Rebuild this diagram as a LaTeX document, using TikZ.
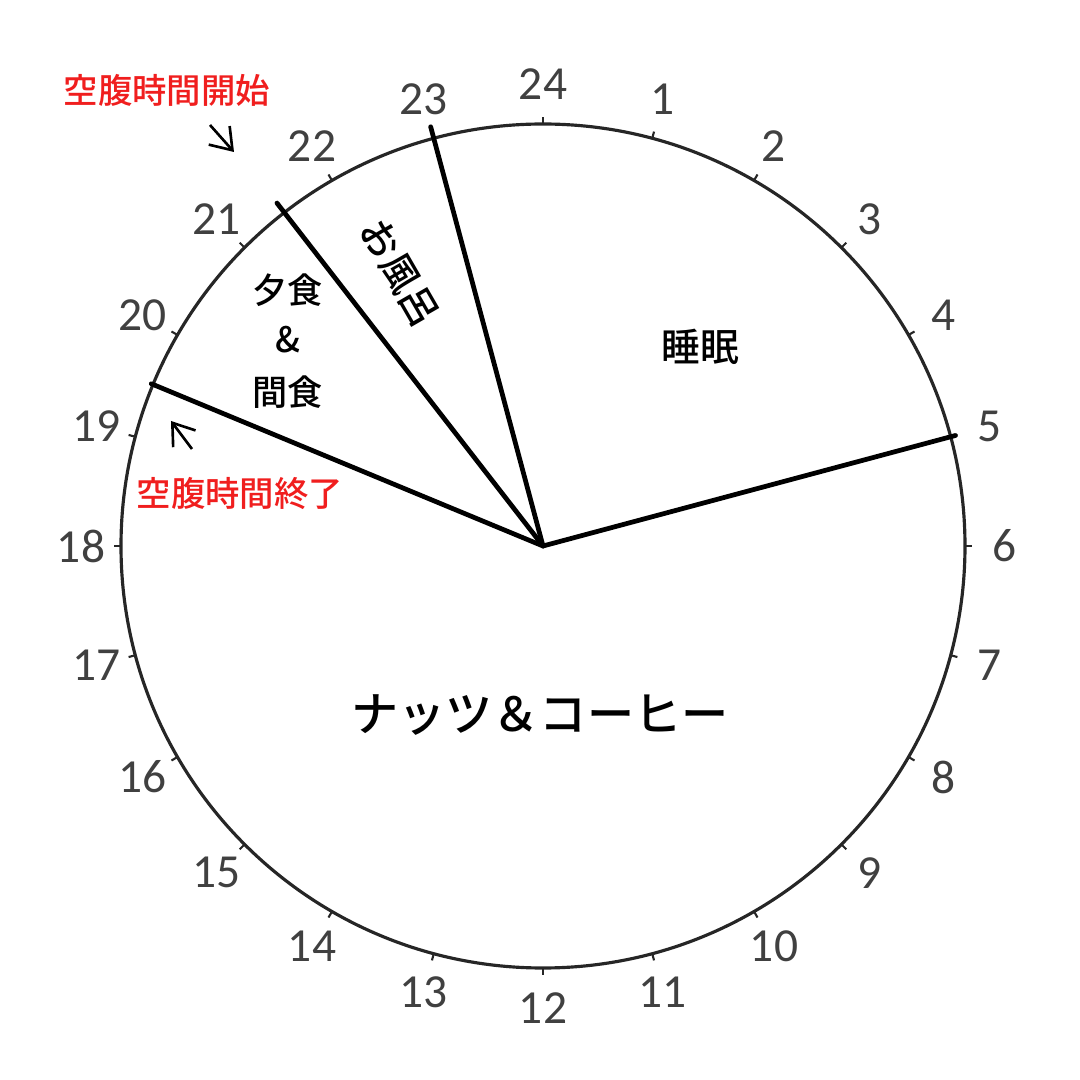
\documentclass[tikz,border=0pt]{standalone}
\usepackage{fontspec}
\setmainfont{Carlito}
\newfontfamily\jpfont{Noto Sans CJK JP Medium}
\usetikzlibrary{arrows.meta}
\definecolor{alertred}{HTML}{F01E1E}

\tikzset{
  hour/.style={text=black!75, font=\fontsize{13.5}{14}\selectfont, inner sep=0pt},
  spoke/.style={line width=1.35pt, black, line cap=round},
  label jp/.style={font=\jpfont\fontsize{10}{12}\selectfont, inner sep=0pt},
  alert/.style={font=\jpfont\fontsize{9.8}{12}\selectfont, text=alertred, inner sep=0pt},
  pointer/.style={-{Straight Barb[length=2mm,width=2.8mm]}, line width=0.75pt}
}

\begin{document}
\begin{tikzpicture}[black]
		\useasboundingbox (-5.43,-5.34) rectangle (5.37,5.46);
		
		% Clock face + hours
		\draw[line width=0.9pt, black!85] (0,0) circle (4.22);
		\foreach \h in {1,...,24}{
			\draw[line width=0.6pt, black!85] (90-15*\h:4.22) -- (90-15*\h:4.29);
			\node[hour] (h\h) at (90-15*\h:4.62) {\h};
		}
		
		% Spokes
		\coordinate (O) at (0,0);
		\coordinate (e5) at (15:4.27);
		\coordinate (e23) at (105:4.34);
		\coordinate (e21) at (127.8:4.34);
		\coordinate (e19) at (157.5:4.24);
		\draw[spoke] (O) -- (e5);
		\draw[spoke] (O) -- (e23);
		\draw[spoke] (O) -- (e21);
		\draw[spoke] (O) -- (e19);
		
		% Sectors
		\node[label jp, font=\jpfont\fontsize{11}{12}\selectfont] (sleep) at (1.57,1.99) {睡眠};
		\node[label jp, font=\jpfont\fontsize{13.4}{14}\selectfont] (nuts) at (-0.03,-1.69) {ナッツ＆コーヒー};
		\node[label jp] (dinner) at (-2.55,2.56) {夕食};
		\node[label jp] (amp) at (-2.55,2.06) {\&};
		\node[label jp] (snack) at (-2.55,1.54) {間食};
		\node[label jp, font=\jpfont\fontsize{11}{12}\selectfont, rotate=-60] (bath) at (-1.43,2.73) {お風呂};
		
		% Fasting marks
		\node[alert] (fstart) at (-3.76,4.56) {空腹時間開始};
		\node[alert] (fend) at (-3.03,0.53) {空腹時間終了};
		\coordinate (a1) at (-3.33,4.21);
		\coordinate (b1) at (-3.09,3.94);
		\coordinate (a2) at (-3.51,0.97);
		\coordinate (b2) at (-3.72,1.25);
		\draw[pointer] (a1) -- (b1);
		\draw[pointer] (a2) -- (b2);
		
	\end{tikzpicture}
\end{document}
